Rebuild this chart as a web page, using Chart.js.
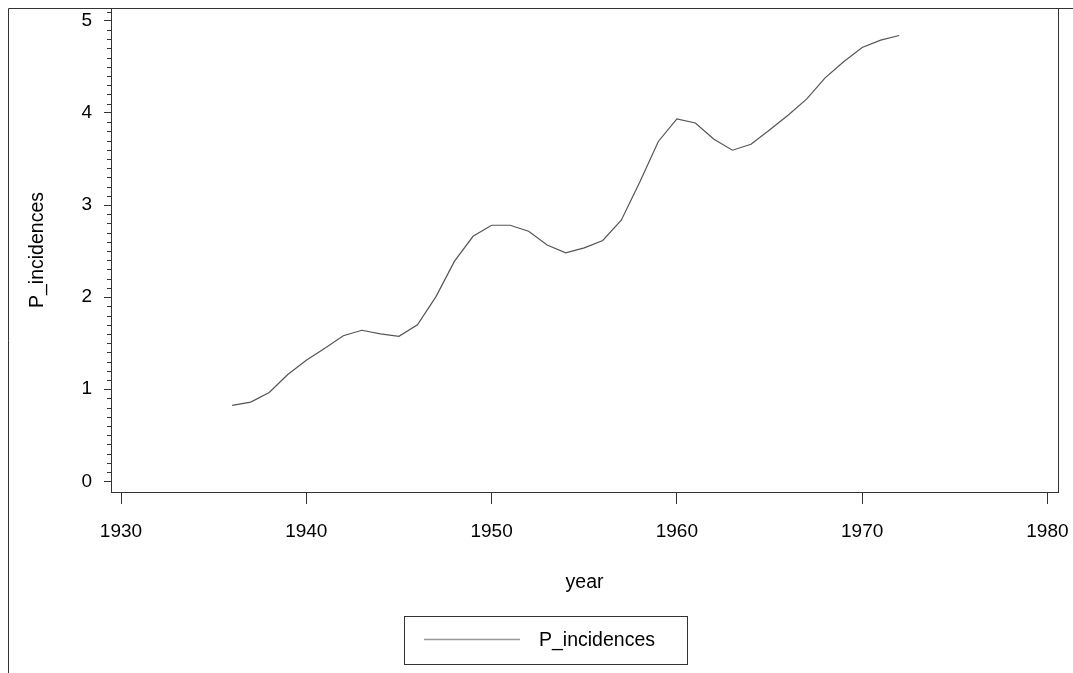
<!DOCTYPE html>
<html>
<head>
<meta charset="utf-8">
<script src="https://cdn.jsdelivr.net/npm/chart.js@4"></script>
<style>
  html, body { margin: 0; padding: 0; background: #fff; }
  #wrap { width: 1073px; height: 673px; position: relative; }
</style>
</head>
<body>
<div id="wrap"><canvas id="chart"></canvas></div>
<script>
// data
const years = [1936, 1937, 1938, 1939, 1940, 1941, 1942, 1943, 1944, 1945,
  1946, 1947, 1948, 1949, 1950, 1951, 1952, 1953, 1954, 1955,
  1956, 1957, 1958, 1959, 1960, 1961, 1962, 1963, 1964, 1965,
  1966, 1967, 1968, 1969, 1970, 1971, 1972]
const incidences = [0.825, 0.86, 0.965, 1.16, 1.315, 1.445, 1.58, 1.64, 1.6, 1.575,
  1.7, 2.005, 2.39, 2.66, 2.78, 2.78, 2.715, 2.565, 2.48, 2.535,
  2.615, 2.835, 3.25, 3.69, 3.935, 3.89, 3.715, 3.595, 3.66, 3.815,
  3.975, 4.15, 4.38, 4.555, 4.71, 4.79, 4.84]
const xTicks = [1930, 1940, 1950, 1960, 1970, 1980]
const yTicks = [0, 1, 2, 3, 4, 5]

const FONT = '"Liberation Sans", Arial, Helvetica, sans-serif'
const AXIS = '#333'

// no extra room for labels that stick out, the layout padding is enough
function noPadding(axis) {
  axis.paddingTop = 0
  axis.paddingBottom = 0
  axis.paddingLeft = 0
  axis.paddingRight = 0
}

// minor ticks on the y axis, and the frames round the plot
const framePlugin = {
  id: 'frame',
  afterDraw(chart) {
    const { ctx, chartArea: { left, top, right, bottom } } = chart
    const y = chart.scales.y
    ctx.save()
    ctx.strokeStyle = AXIS
    ctx.lineWidth = 1
    ctx.beginPath()
    for (let i = 1; i < 52; i++) {
      if (i % 10 === 0) continue
      const v = i / 10
      if (v > y.max) break
      const py = Math.round(y.getPixelForValue(v)) + 0.5
      ctx.moveTo(left - 4, py)
      ctx.lineTo(left, py)
    }
    ctx.stroke()

    ctx.strokeRect(Math.round(left) + 0.5, Math.round(top) + 0.5,
      Math.round(right - left), Math.round(bottom - top))

    // outer box
    ctx.beginPath()
    ctx.moveTo(8.5, chart.height)
    ctx.lineTo(8.5, 8.5)
    ctx.lineTo(chart.width, 8.5)
    ctx.stroke()

    // legend
    const ds = chart.data.datasets[0]
    ctx.strokeRect(404.5, 616.5, 283, 48)
    ctx.strokeStyle = '#999'
    ctx.lineWidth = 1.5
    ctx.beginPath()
    ctx.moveTo(424, 639.5)
    ctx.lineTo(520, 639.5)
    ctx.stroke()
    ctx.fillStyle = '#000'
    ctx.font = '19.5px ' + FONT
    ctx.textBaseline = 'middle'
    ctx.textAlign = 'left'
    ctx.fillText(ds.label, 539, 641)
    ctx.restore()
  },
}

new Chart(document.getElementById('chart'), {
  type: 'line',
  data: {
    datasets: [
      {
        label: 'P_incidences',
        data: years.map((yr, i) => ({ x: yr, y: incidences[i] })),
        borderColor: '#555',
        borderWidth: 1.2,
        pointRadius: 0,
        tension: 0,
        fill: false,
      },
    ],
  },
  options: {
    responsive: true,
    maintainAspectRatio: false,
    animation: false,
    events: [],
    layout: { padding: { top: 8, right: 15, bottom: 0, left: 0 } },
    plugins: {
      legend: { display: false },
      tooltip: { enabled: false },
    },
    scales: {
      x: {
        type: 'linear',
        min: 1929.46,
        max: 1980.57,
        afterBuildTicks: (axis) => {
          axis.ticks = xTicks.map((v) => ({ value: v }))
        },
        afterFit: (axis) => {
          axis.height = 181
          noPadding(axis)
        },
        grid: {
          drawOnChartArea: false,
          drawTicks: true,
          tickLength: 12,
          color: AXIS,
        },
        border: { display: true, color: AXIS },
        ticks: {
          color: '#000',
          font: { family: FONT, size: 19 },
          padding: 16,
          maxRotation: 0,
          callback: (v) => String(v),
        },
        title: {
          display: true,
          text: 'year',
          color: '#000',
          font: { family: FONT, size: 19.5 },
          padding: { top: 0, bottom: 79 },
        },
      },
      y: {
        min: -0.116,
        max: 5.139,
        afterBuildTicks: (axis) => {
          axis.ticks = yTicks.map((v) => ({ value: v }))
        },
        afterFit: (axis) => {
          axis.width = 111
          noPadding(axis)
        },
        grid: {
          drawOnChartArea: false,
          drawTicks: true,
          tickLength: 7,
          color: AXIS,
        },
        border: { display: true, color: AXIS },
        ticks: {
          color: '#000',
          font: { family: FONT, size: 19 },
          padding: 12,
          callback: (v) => String(v),
        },
        title: {
          display: true,
          text: 'P_incidences',
          color: '#000',
          font: { family: FONT, size: 19.5 },
          padding: { top: 26, bottom: 0 },
        },
      },
    },
  },
  plugins: [framePlugin],
})
</script>
</body>
</html>
